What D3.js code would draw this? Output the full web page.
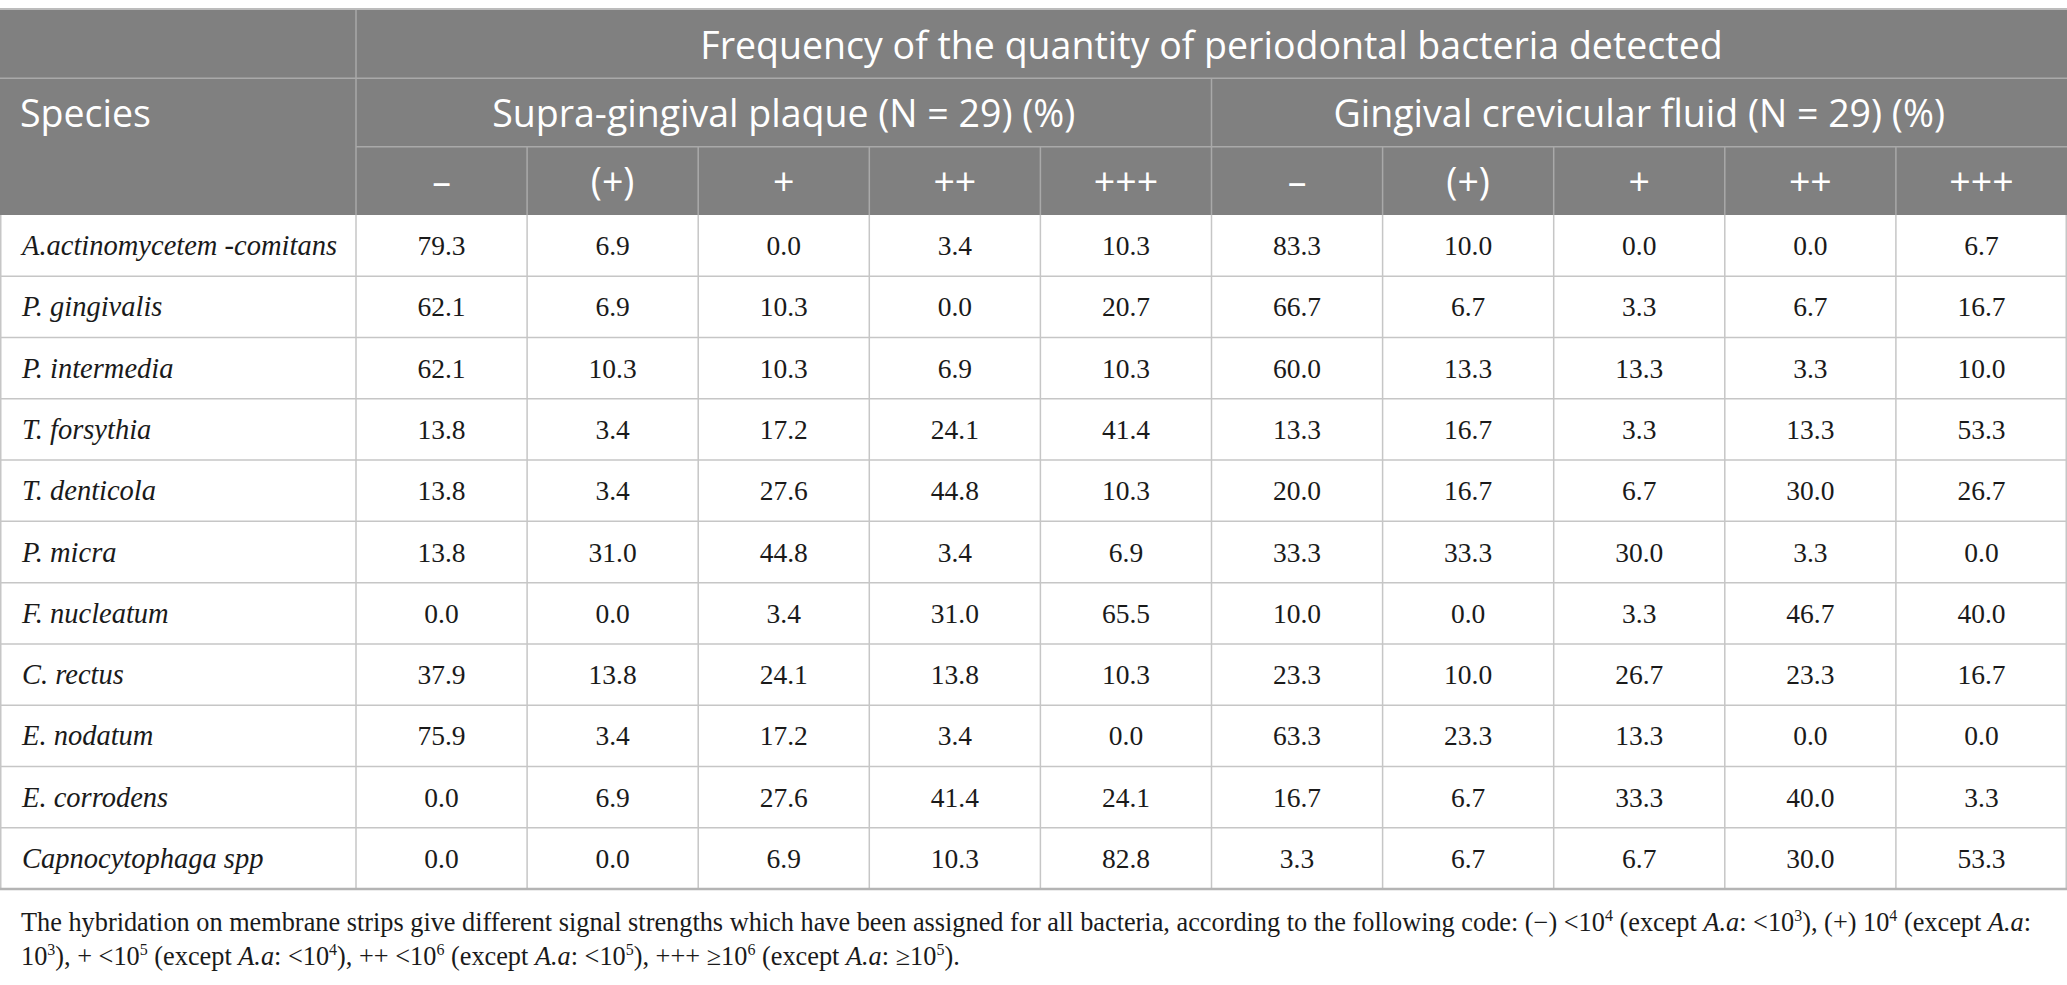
<!DOCTYPE html>
<html>
<head>
<meta charset="utf-8">
<script src="https://cdn.jsdelivr.net/npm/d3@7"></script>
<style>
  html, body { margin: 0; padding: 0; background: #fff; }
  .head { font-family: "Open Sans", "Noto Sans", sans-serif; fill: #fff; }
  .cell { font-family: "Liberation Serif", "DejaVu Serif", serif; fill: #1a1a1a; }
  .note { font-family: "Liberation Serif", "DejaVu Serif", serif; fill: #1a1a1a; }
</style>
</head>
<body>
<svg id="tbl" width="2067" height="985"></svg>
<script>
// table content
const species = ["A.actinomycetem -comitans", "P. gingivalis", "P. intermedia", "T. forsythia",
  "T. denticola", "P. micra", "F. nucleatum", "C. rectus", "E. nodatum", "E. corrodens",
  "Capnocytophaga spp"]
const levels = ["\u2013", "(+)", "+", "++", "+++"]
const groups = ["Supra-gingival plaque (N = 29) (%)", "Gingival crevicular fluid (N = 29) (%)"]
const title = "Frequency of the quantity of periodontal bacteria detected"
const supra = [
  [79.3, 6.9, 0.0, 3.4, 10.3],
  [62.1, 6.9, 10.3, 0.0, 20.7],
  [62.1, 10.3, 10.3, 6.9, 10.3],
  [13.8, 3.4, 17.2, 24.1, 41.4],
  [13.8, 3.4, 27.6, 44.8, 10.3],
  [13.8, 31.0, 44.8, 3.4, 6.9],
  [0.0, 0.0, 3.4, 31.0, 65.5],
  [37.9, 13.8, 24.1, 13.8, 10.3],
  [75.9, 3.4, 17.2, 3.4, 0.0],
  [0.0, 6.9, 27.6, 41.4, 24.1],
  [0.0, 0.0, 6.9, 10.3, 82.8]
]
const gcf = [
  [83.3, 10.0, 0.0, 0.0, 6.7],
  [66.7, 6.7, 3.3, 6.7, 16.7],
  [60.0, 13.3, 13.3, 3.3, 10.0],
  [13.3, 16.7, 3.3, 13.3, 53.3],
  [20.0, 16.7, 6.7, 30.0, 26.7],
  [33.3, 33.3, 30.0, 3.3, 0.0],
  [10.0, 0.0, 3.3, 46.7, 40.0],
  [23.3, 10.0, 26.7, 23.3, 16.7],
  [63.3, 23.3, 13.3, 0.0, 0.0],
  [16.7, 6.7, 33.3, 40.0, 3.3],
  [3.3, 6.7, 6.7, 30.0, 53.3]
]
// footnote pieces: [text, style]  (i = italic, s = superscript)
const note1 = [["The hybridation on membrane strips give different signal strengths which have been assigned for all bacteria, according to the following code: (\u2212) <10"], ["4", "s"],
  [" (except "], ["A.a", "i"], [": <10"], ["3", "s"], ["), (+) 10"], ["4", "s"], [" (except "], ["A.a", "i"], [":"]]
const note2 = [["10"], ["3", "s"], ["), + <10"], ["5", "s"], [" (except "], ["A.a", "i"], [": <10"], ["4", "s"],
  ["), ++ <10"], ["6", "s"], [" (except "], ["A.a", "i"], [": <10"], ["5", "s"], ["), +++ \u226510"], ["6", "s"],
  [" (except "], ["A.a", "i"], [": \u226510"], ["5", "s"], [")."]]

const W = 2067
const firstCol = 356
const svg = d3.select("#tbl")

const cols = d3.range(10)
const xScale = d3.scaleBand().domain(cols).range([firstCol, W])
const headY = d3.scaleBand().domain([0, 1, 2]).range([10, 215])
const yScale = d3.scaleBand().domain(d3.range(species.length)).range([215, 889])

const rows = species.map(function (s, i) {
  return {name: s, vals: supra[i].concat(gcf[i])}
})

// header background
svg.append("rect").attr("x", 0).attr("y", headY(0))
  .attr("width", W).attr("height", headY(2) + headY.bandwidth() - headY(0))
  .style("fill", "#808080")

// header lines
const hl = svg.append("g").style("stroke", "#a9a9a9").style("stroke-width", 1.5)
hl.append("line").attr("x1", 0).attr("x2", W).attr("y1", headY(1)).attr("y2", headY(1))
hl.append("line").attr("x1", firstCol).attr("x2", W).attr("y1", headY(2)).attr("y2", headY(2))
hl.append("line").attr("x1", firstCol).attr("x2", firstCol).attr("y1", headY(0)).attr("y2", headY(2) + headY.bandwidth())
hl.append("line").attr("x1", xScale(5)).attr("x2", xScale(5)).attr("y1", headY(1)).attr("y2", headY(2) + headY.bandwidth())
hl.selectAll(".sub").data(cols.filter(function (c) { return c > 0 && c != 5 }))
  .enter().append("line")
  .attr("x1", function (c) { return xScale(c) }).attr("x2", function (c) { return xScale(c) })
  .attr("y1", headY(2)).attr("y2", headY(2) + headY.bandwidth())

// header texts
const hf = 37.5
svg.append("text").attr("class", "head")
  .attr("x", (firstCol + W) / 2).attr("y", headY(0) + headY.bandwidth() / 2)
  .attr("text-anchor", "middle").attr("dominant-baseline", "central")
  .style("font-size", hf + "px").text(title)
svg.append("text").attr("class", "head")
  .attr("x", 20).attr("y", headY(1) + headY.bandwidth() / 2)
  .attr("dominant-baseline", "central")
  .style("font-size", hf + "px").text("Species")
svg.selectAll(".grp").data(groups).enter().append("text").attr("class", "head")
  .attr("x", function (d, i) { return (xScale(i * 5) + xScale(i * 5 + 4) + xScale.bandwidth()) / 2 })
  .attr("y", headY(1) + headY.bandwidth() / 2)
  .attr("text-anchor", "middle").attr("dominant-baseline", "central")
  .style("font-size", hf + "px").text(function (d) { return d })
svg.selectAll(".lvl").data(cols).enter().append("text").attr("class", "head")
  .attr("x", function (c) { return xScale(c) + xScale.bandwidth() / 2 })
  .attr("y", headY(2) + headY.bandwidth() / 2)
  .attr("text-anchor", "middle").attr("dominant-baseline", "central")
  .style("font-size", hf + "px").text(function (c) { return levels[c % 5] })

// body grid
const grid = svg.append("g").style("stroke", "#c6c6c6").style("stroke-width", 1.5)
grid.selectAll(".hr").data(d3.range(1, species.length)).enter().append("line")
  .attr("x1", 0).attr("x2", W)
  .attr("y1", function (i) { return yScale(i) }).attr("y2", function (i) { return yScale(i) })
grid.selectAll(".vr").data(d3.range(11)).enter().append("line")
  .attr("x1", function (c) { return c == 10 ? W - 0.75 : xScale(c) })
  .attr("x2", function (c) { return c == 10 ? W - 0.75 : xScale(c) })
  .attr("y1", yScale(0)).attr("y2", yScale.range()[1])
grid.append("line").attr("x1", 0.75).attr("x2", 0.75).attr("y1", yScale(0)).attr("y2", yScale.range()[1])
// outer top/bottom rules
svg.append("line").attr("x1", 0).attr("x2", W).attr("y1", 9).attr("y2", 9)
  .style("stroke", "#bcbcbc").style("stroke-width", 2)
svg.append("line").attr("x1", 0).attr("x2", W).attr("y1", 889).attr("y2", 889)
  .style("stroke", "#b4b4b4").style("stroke-width", 2.5)

// body text
const body = svg.selectAll(".row").data(rows).enter().append("g")
  .attr("transform", function (d, i) { return `translate(0,${yScale(i) + yScale.bandwidth() / 2})` })
body.append("text").attr("class", "cell")
  .attr("x", 22).attr("dominant-baseline", "central")
  .style("font-size", "28.5px").style("font-style", "italic")
  .text(function (d) { return d.name })
body.selectAll(".v").data(function (d) { return d.vals }).enter().append("text")
  .attr("class", "cell")
  .attr("x", function (v, c) { return xScale(c) + xScale.bandwidth() / 2 })
  .attr("text-anchor", "middle").attr("dominant-baseline", "central")
  .style("font-size", "27.5px")
  .text(function (v) { return v.toFixed(1) })

// footnote
function writeNote(parts, y) {
  const t = svg.append("text").attr("class", "note").attr("x", 21).attr("y", y).style("font-size", "26.3px")
  let lift = 0
  parts.forEach(function (p) {
    const sp = t.append("tspan").text(p[0])
    if (p[1] == "i") sp.style("font-style", "italic")
    if (p[1] == "s") {
      sp.attr("dy", -10).style("font-size", "16px")
      lift = 10
    } else if (lift) {
      sp.attr("dy", lift)
      lift = 0
    }
  })
}
writeNote(note1, 931)
writeNote(note2, 965)
</script>
</body>
</html>
